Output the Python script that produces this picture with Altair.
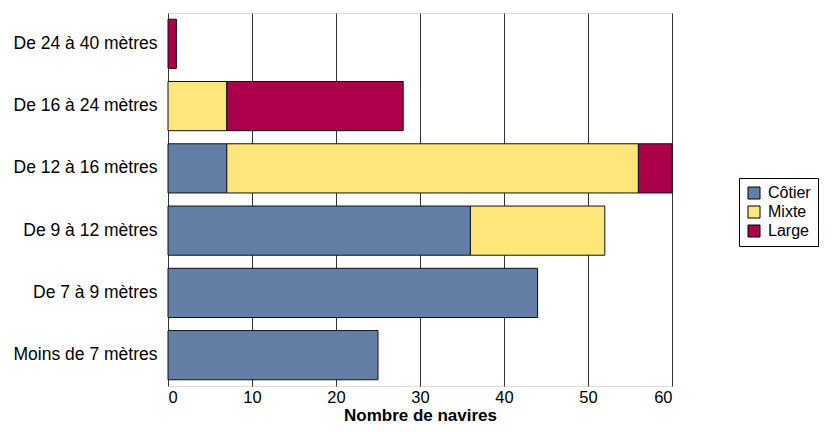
import altair as alt
import pandas as pd

categories = ["De 24 à 40 mètres", "De 16 à 24 mètres", "De 12 à 16 mètres",
              "De 9 à 12 mètres", "De 7 à 9 mètres", "Moins de 7 mètres"]
series = ["Côtier", "Mixte", "Large"]
cotier = [0, 0, 7, 36, 44, 25]
mixte = [0, 7, 49, 16, 0, 0]
large = [1, 21, 4, 0, 0, 0]
colors = ["#647fa6", "#ffe67a", "#ad004a"]

rows = []
for i, c in enumerate(categories):
    for j, (s, vals) in enumerate(zip(series, [cotier, mixte, large])):
        if vals[i] > 0:
            rows.append({"cat": c, "serie": s, "val": vals[i], "ord": j})
df = pd.DataFrame(rows)

chart = alt.Chart(df).mark_bar(stroke="#111", strokeWidth=1).encode(
    y=alt.Y("cat:N", sort=categories, title=None,
            scale=alt.Scale(paddingInner=0.21, paddingOuter=0.1),
            axis=alt.Axis(ticks=False, labelFontSize=17.5, labelPadding=11,
                          labelColor="#000", domain=False, labelLimit=300)),
    x=alt.X("val:Q", stack="zero", title="Nombre de navires",
            scale=alt.Scale(domain=[0, 60], nice=False),
            axis=alt.Axis(values=[0, 10, 20, 30, 40, 50, 60], ticks=False,
                          labelFontSize=16.5, labelPadding=3, labelColor="#000",
                          grid=True, gridColor="#333", gridOpacity=1,
                          domain=False, titleFontSize=17, titleFontWeight="bold",
                          titleY=34, titleBaseline="alphabetic", titleColor="#000")),
    color=alt.Color("serie:N", sort=series,
                    scale=alt.Scale(domain=series, range=colors),
                    legend=alt.Legend(title=None, orient="none", legendX=571, legendY=165,
                                      symbolType="square", symbolSize=144,
                                      symbolStrokeColor="#000", symbolStrokeWidth=1,
                                      labelFontSize=16, labelColor="#000", labelOffset=6,
                                      strokeColor="#000", padding=7, rowPadding=3)),
    order=alt.Order("ord:Q"),
).properties(
    width=504, height=373,
    autosize=alt.AutoSizeParams(type="none"),
    padding={"left": 160, "top": 5, "right": 160, "bottom": 38}
).configure_view(
    stroke="#000", strokeWidth=1
).configure(font="Liberation Sans")

chart.save("out.html", embed_options={"renderer": "svg", "actions": False})
